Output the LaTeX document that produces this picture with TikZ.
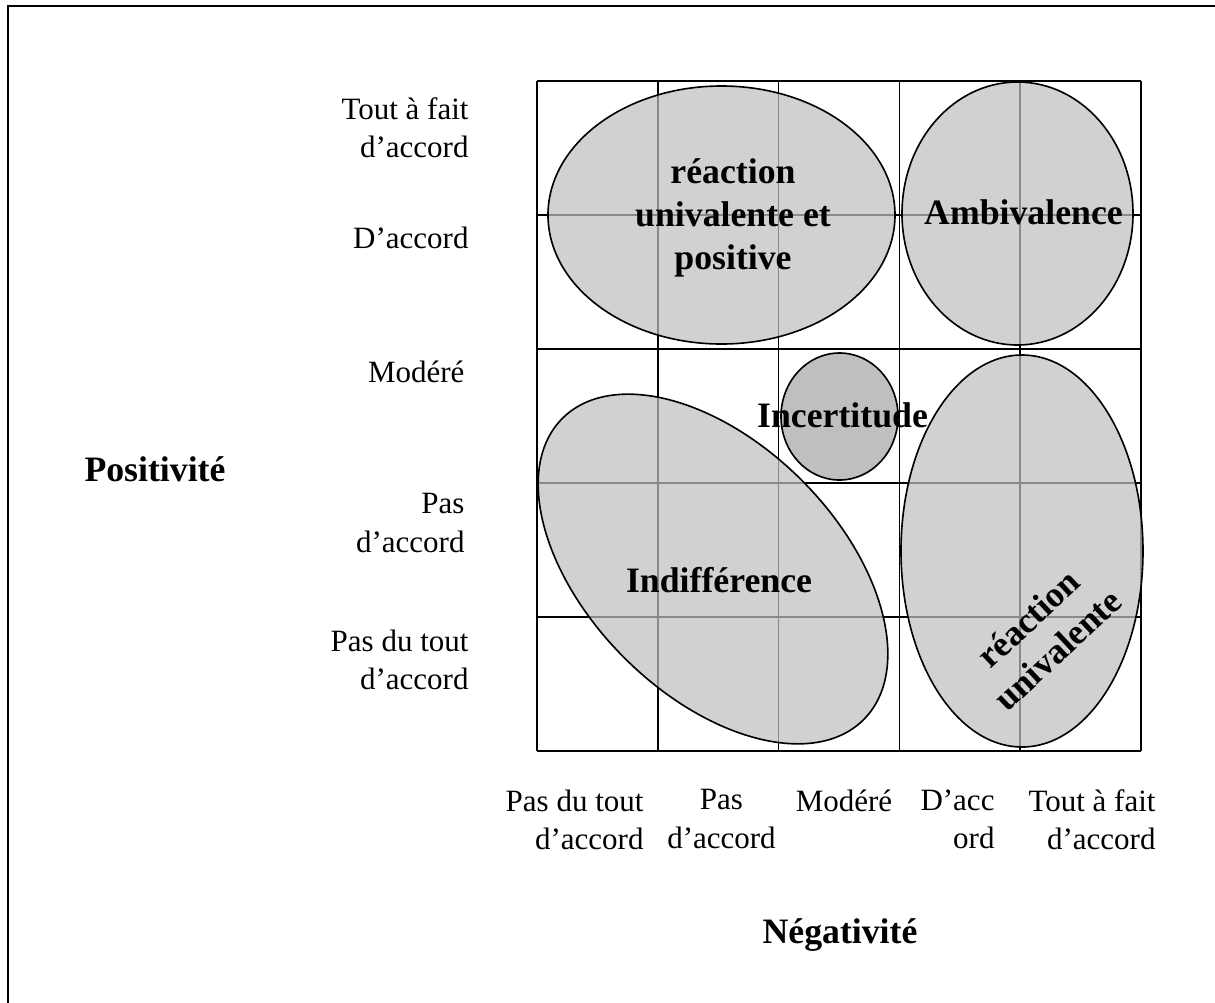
\documentclass[tikz,border=0pt]{standalone}
\usepackage{fontspec}
\setmainfont{Liberation Serif}
\definecolor{zonegray}{gray}{0.75}
\begin{document}
\begin{tikzpicture}[x=0.4pt, y=-0.4pt,
	every node/.style={font=\fontsize{12.4}{15.4}\selectfont, inner sep=0pt},
	gridline/.style={line width=0.6pt},
	zone/.style={draw, line width=0.65pt, fill=zonegray, fill opacity=0.72},
	zonelabel/.style={font=\fontsize{14.3}{17.2}\selectfont\bfseries, align=center}]
	\useasboundingbox (0,0) rectangle (1215,1002);
	\draw[line width=1pt] (8,1012) -- (8,6) -- (1225,6);
	\foreach \i in {0,...,5} {
		\draw[gridline] (537+120.8*\i,81) -- (537+120.8*\i,751);
		\draw[gridline] (537,81+134*\i) -- (1141,81+134*\i);
	}
	\draw[zone] (721.5,215) ellipse [x radius=173.5, y radius=129];
	\draw[zone] (1017.5,213.5) ellipse [x radius=115.5, y radius=131.5];
	\draw[zone, fill opacity=1] (839.5,416.5) ellipse [x radius=58.5, y radius=63.5];
	\draw[zone] (1022,551) ellipse [x radius=121, y radius=196];
	\draw[zone, rotate around={-45:(713,569)}] (713,569) ellipse [x radius=213, y radius=125.5];
	\foreach \n/\x/\y/\t in {1/469/97/{Tout à fait\\d’accord}, 2/469/226/D’accord, 3/465/360/Modéré, 4/465/493/{Pas\\d’accord}, 5/469/629/{Pas du tout\\d’accord}}
		\node[align=right, anchor=north east] (pos\n) at (\x,\y) {\t};
	\foreach \n/\x/\a/\al/\t in {1/644/north east/right/{Pas du tout\\d’accord}, 2/721.5/north/center/{Pas\\d’accord}, 3/844/north/center/Modéré, 4/995/north east/right/{D’acc\\ord}, 5/1156/north east/right/{Tout à fait\\d’accord}}
		\node[align=\al, anchor=\a] (neg\n) at (\x,789) {\t};
	\node[zonelabel] (rup) at (733,218) {réaction\\univalente et\\positive};
	\node[zonelabel] (amb) at (1023.5,212) {Ambivalence};
	\node[zonelabel] (inc) at (842.5,415) {Incertitude};
	\node[zonelabel] (ind) at (719,580) {Indifférence};
	\node[zonelabel, rotate=43] (ru) at (1043,634) {réaction\\univalente};
	\node[zonelabel] (pos) at (155,469) {Positivité};
	\node[zonelabel] (neg) at (840,935) {Négativité};
\end{tikzpicture}
\end{document}
